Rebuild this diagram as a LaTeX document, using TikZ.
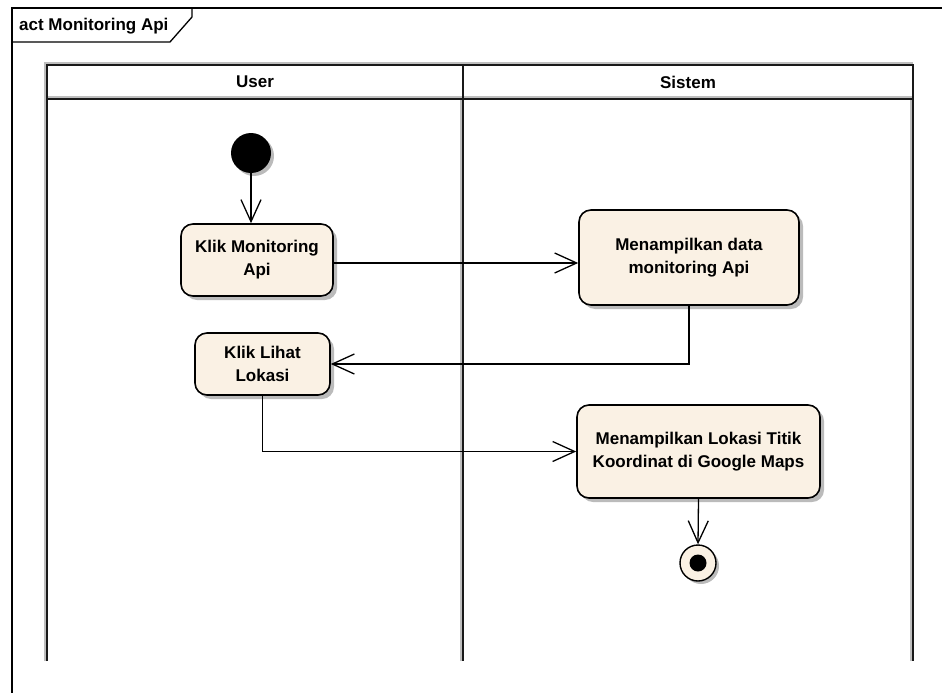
\documentclass[tikz,border=0pt]{standalone}
\usepackage{fontspec}
\setmainfont{Liberation Sans}
\usetikzlibrary{arrows.meta,shadows}
\definecolor{actfill}{RGB}{250,241,228}
\definecolor{shade}{RGB}{170,170,170}
\definecolor{laneshade}{RGB}{190,190,190}
\tikzset{
  x=1pt,y=-1pt,
  txt/.style={font=\fontsize{17}{23}\selectfont\bfseries},
  action/.style={txt,draw=black,line width=1.6pt,fill=actfill,rounded corners=12pt,
    align=center,inner sep=0pt,
    drop shadow={shadow xshift=4pt,shadow yshift=-4pt,fill=shade,opacity=0.8}},
  flow/.style={line width=1.3pt,-{Straight Barb[length=22pt,width=20pt,line width=1.3pt]}},
  laneline/.style={line width=1.8pt,black!90},
  laneshadow/.style={line width=1.5pt,laneshade},
}
\begin{document}
\begin{tikzpicture}
\useasboundingbox (0,0) rectangle (942,693);
\fill[white] (0,0) rectangle (942,693);
% outer frame
\draw[line width=1.3pt] (12,700) -- (12,8) -- (945,8);
\draw[line width=1.3pt] (12,42) -- (170,42) -- (192,17) -- (192,8);
\node[txt,anchor=base west,inner sep=0pt] (title) at (19,31) {act Monitoring Api};
% swimlanes shadows
\draw[laneshadow] (45,661) -- (45,63) -- (913,63);
\draw[laneshadow] (461,661) -- (461,99);
\draw[laneshadow] (911,661) -- (911,99);
\draw[laneshadow] (47,97) -- (913,97);
% swimlanes
\draw[laneline] (47,661) -- (47,65) -- (913,65) -- (913,661);
\draw[laneline] (47,99) -- (913,99);
\draw[laneline] (463,65) -- (463,661);
\node[txt,inner sep=0pt] (huser) at (255,82) {User};
\node[txt,inner sep=0pt] (hsys) at (688,82) {Sistem};
% nodes
\node[circle,fill=black,minimum size=40pt,inner sep=0pt,
  drop shadow={shadow xshift=3pt,shadow yshift=-3pt,fill=shade,opacity=0.8}] (start) at (251,153) {};
\node[action,minimum width=152pt,minimum height=72pt] (klik1) at (257,260) {Klik Monitoring\\Api};
\node[action,minimum width=220pt,minimum height=95pt] (data) at (689,257.5) {Menampilkan data\\monitoring Api};
\node[action,minimum width=135pt,minimum height=62pt] (lihat) at (262.5,364) {Klik Lihat\\Lokasi};
\node[action,minimum width=243pt,minimum height=93pt] (lokasi) at (698.5,451.5) {Menampilkan Lokasi Titik\\Koordinat di Google Maps};
\node[circle,draw=black,line width=1.4pt,fill=actfill,minimum size=36pt,inner sep=0pt,
  drop shadow={shadow xshift=3pt,shadow yshift=-3pt,fill=shade,opacity=0.8}] (end) at (698,563) {};
\node[circle,fill=black,minimum size=17pt,inner sep=0pt] (endin) at (end.center) {};
% connectors
\draw[flow] (start.south) -- (start.south |- klik1.north);
\draw[flow] ([yshift=-3pt]klik1.east) -- ([yshift=-3pt]klik1.east -| data.west);
\draw[flow] (data.south) |- (lihat.east);
\draw[flow] (lihat.south) |- (lokasi.west);
\draw[flow] (lokasi.south) -- (end.north);
\end{tikzpicture}
\end{document}
